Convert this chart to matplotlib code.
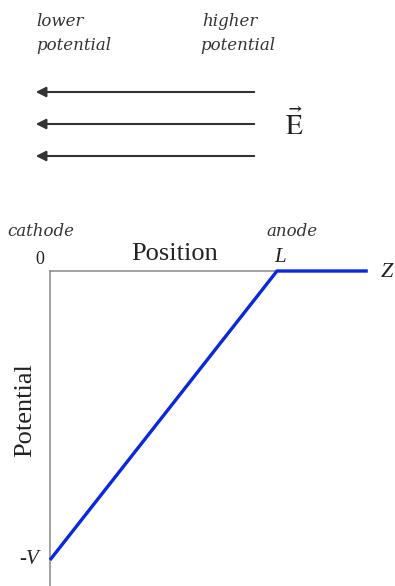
import numpy as np
import matplotlib.pyplot as plt

# potential vs position (L = 1, V = 1)
z = [0.0, 1.0, 1.4]
potential = [-1.0, 0.0, 0.0]
arrow_rows = [92, 124, 156]

W, H = 395, 586
fig = plt.figure(figsize=(W / 100, H / 100), dpi=100)

def fx(px):
    return px / W

def fy(py):
    return 1 - py / H

serif = 'Liberation Serif'
ital = 'DejaVu Serif'

# field arrows
for yy in arrow_rows:
    fig.add_artist(plt.matplotlib.patches.FancyArrowPatch(
        (fx(257), fy(yy)), (fx(33), fy(yy)), transform=fig.transFigure,
        arrowstyle='-|>', mutation_scale=15, color='#333333', lw=1.5))

kw = dict(family=ital, style='italic', size=12, va='center', color='#333333')
fig.text(fx(36), fy(22), 'lower', **kw)
fig.text(fx(36), fy(46), 'potential', **kw)
fig.text(fx(202), fy(22), 'higher', **kw)
fig.text(fx(200), fy(46), 'potential', **kw)
fig.text(fx(294), fy(125), r'$\vec{\mathrm{E}}$', size=20, va='center', ha='center',
         color='#222222', math_fontfamily='stix')

# potential plot
ax = fig.add_axes([fx(50), 0, fx(395) - fx(50), fy(271)])
ax.plot(z, potential, color='#0a28d8', lw=2.4, solid_capstyle='butt', clip_on=False, zorder=3)
ax.set_xlim(0, 345 / 227)
ax.set_ylim(-315 / 289, 0)
for s in ['right', 'bottom']:
    ax.spines[s].set_visible(False)
ax.spines['top'].set_bounds(0, 1)
for s in ['top', 'left']:
    ax.spines[s].set_color('#888888')
    ax.spines[s].set_linewidth(1.1)
ax.set_xticks([])
ax.set_yticks([])

fig.text(fx(7), fy(232), 'cathode', **kw)
fig.text(fx(266), fy(232), 'anode', **kw)
fig.text(fx(40), fy(259), '0', family=serif, size=13, va='center', ha='center', color='#222222')
fig.text(fx(175), fy(254), 'Position', family=serif, size=19, va='center', ha='center', color='#222222')
fig.text(fx(280), fy(258), 'L', family=serif, style='italic', size=15, va='center', ha='center', color='#222222')
fig.text(fx(387), fy(273), 'Z', family=serif, style='italic', size=16, va='center', ha='center', color='#222222')
fig.text(fx(25), fy(410), 'Potential', family=serif, size=19, va='center', ha='center', rotation=90, color='#222222')
fig.text(fx(29), fy(560), '-V', family=serif, style='italic', size=15, va='center', ha='center', color='#222222')

fig.savefig('out.png', dpi=100)
